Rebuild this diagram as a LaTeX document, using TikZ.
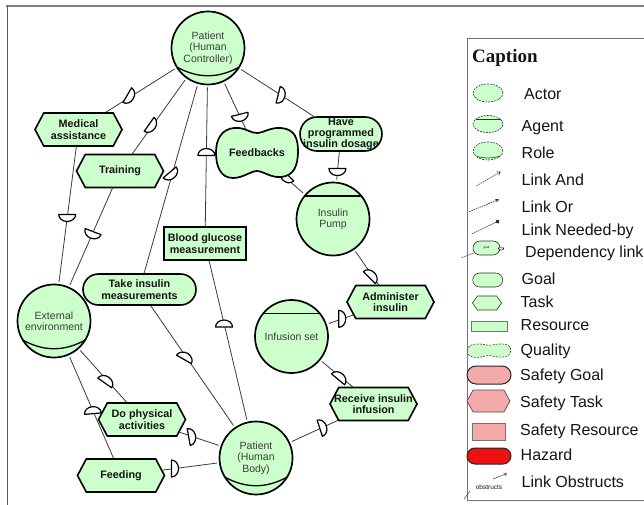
\documentclass[tikz,border=0pt]{standalone}
\usepackage{fontspec}
\setmainfont{Liberation Sans}
\newfontfamily\capfont{Liberation Serif}
\usetikzlibrary{shapes.misc,shapes.symbols,shapes.geometric,calc,arrows.meta}
\pgfdeclarelayer{background}
\pgfsetlayers{background,main}

\definecolor{leaf}{HTML}{CCFFCC}
\definecolor{blush}{HTML}{F5AAAA}
\definecolor{alarm}{HTML}{EE1111}
\definecolor{ink}{HTML}{141414}
\definecolor{namegray}{HTML}{3C3C3C}
\definecolor{wire}{HTML}{3A3A3A}
\definecolor{rule}{HTML}{808080}

\begin{document}
\begin{tikzpicture}[x=1pt,y=-1pt,
  every node/.style={inner sep=0pt},
  namefont/.style={font=\fontsize{10.5}{11.3}\selectfont, text=namegray},
  boldfont/.style={font=\bfseries\fontsize{10.8}{11.3}\selectfont, text=ink},
  actorc/.style={circle, draw=black, line width=1.7pt, fill=leaf, minimum size=73pt,
    outer sep=3pt, align=center, namefont},
  rolec/.style={actorc, path picture={
    \draw[line width=1.3pt]
      ($(path picture bounding box.center)+(-38,15)$)
      .. controls ($(path picture bounding box.center)+(-12,32)$)
      and ($(path picture bounding box.center)+(12,32)$)
      .. ($(path picture bounding box.center)+(38,15)$);}},
  agentc/.style={actorc, path picture={
    \draw[line width=1.3pt]
      ($(path picture bounding box.center)+(-40,-23)$) --
      ($(path picture bounding box.center)+(40,-23)$);}},
  task/.style={signal, signal to=east and west, signal pointer angle=124,
    draw=black, line width=1.6pt, fill=leaf, minimum width=87pt,
    minimum height=33pt, align=center, boldfont},
  goal/.style={rounded rectangle, draw=black, line width=1.6pt, fill=leaf,
    minimum width=82pt, minimum height=34pt, align=center, boldfont},
  resource/.style={rectangle, draw=black, line width=1.8pt, fill=leaf,
    minimum width=82pt, minimum height=33pt, align=center, boldfont},
  quality/.style={ellipse, minimum width=82pt, minimum height=50pt, boldfont},
  inlabel/.style={align=center, boldfont},
  dlink/.style={draw=wire, line width=0.8pt},
  dep stroke/.style={line width=1.2pt},
  dep/.pic={
    \draw[fill=white, line join=round, dep stroke]
      (-3.5pt,-8.5pt) -- (-3.5pt,8.5pt)
      arc[start angle=90, end angle=-90, x radius=7pt, y radius=8.5pt] -- cycle;},
  peanut/.pic={
    \path[pic actions] (-41,0) .. controls (-41,-20) and (-30,-26) .. (-18,-25)
      .. controls (-10,-24) and (-6,-20) .. (0,-20)
      .. controls (6,-20) and (14,-26) .. (24,-25)
      .. controls (38,-24) and (41,-14) .. (41,-2)
      .. controls (41,14) and (36,23) .. (24,24)
      .. controls (14,25) and (6,18) .. (0,18)
      .. controls (-6,18) and (-14,25) .. (-24,25)
      .. controls (-36,25) and (-41,14) .. (-41,0) -- cycle;},
  legell/.style={ellipse, draw=black!80, dash pattern=on 2pt off 1pt,
    line width=0.6pt, fill=leaf, minimum width=30pt, minimum height=18pt},
  legsolid/.style={draw=black!80, line width=0.6pt, fill=leaf},
  legtxt/.style={anchor=west, font=\fontsize{16}{18}\selectfont, text=ink,
    text height=11.5pt, text depth=0pt},
  leglink/.style={draw=black!85, dash pattern=on 1.5pt off 0.8pt, line width=0.55pt}
]
\useasboundingbox (0,0) rectangle (644,505);

% outer frame
\draw[rule, line width=1.5pt] (6,6) -- (644,6);
\draw[black!65, line width=0.8pt] (7.3,6) -- (7.3,505);

% ---------- actors ----------
\node[rolec]  (phc) at (208,48)    {Patient\\(Human\\Controller)};
\node[agentc] (ip)  at (333,219)   {Insulin\\Pump};
\node[rolec]  (ee)  at (54,321)    {External\\environment};
\node[agentc] (is)  at (291.5,336.5) {Infusion set};
\node[rolec]  (phb) at (256,458)   {Patient\\(Human\\Body)};

% ---------- dependums ----------
\node[task] (med)  at (78.5,129.5) {Medical\\assistance};
\node[task] (trn)  at (120,171)    {Training};
\node[resource] (bgm) at (205,243.5) {Blood glucose\\measurement};
\path (257,153) pic[draw=black, fill=leaf, line width=1.7pt]{peanut};
\node[quality] (fdb) at (257,153) {Feedbacks};
\node[goal, label={[inlabel]center:{Have\\programmed\\insulin dosage}}] (hpd) at (341,134) {};
\node[goal, minimum width=113pt, minimum height=31pt] (tim) at (139.5,289.5) {Take insulin\\measurements};
\node[task] (ai)   at (390.5,302)  {Administer\\insulin};
\node[task, label={[inlabel]center:{Receive insulin\\infusion}}] (rii) at (373.5,404) {};
\node[task] (dpa)  at (142,419.5)  {Do physical\\activities};
\node[task] (feed) at (121,475.5)  {Feeding};

% ---------- dependency links ----------
\begin{pgfonlayer}{background}
\foreach \a/\b in {phc/med, phc/trn, phc/tim, phc/bgm, phc/fdb, phc/hpd,
  hpd/ip, fdb/ip, med/ee, trn/ee, ip/ai, ai/is, is/rii, rii/phb, bgm/phb,
  tim/phb, ee/dpa, ee/feed, dpa/phb, feed/phb}
  \draw[dlink] (\a) -- (\b);
\foreach \a/\b/\t/\r in {phc/med/0.60/-30, phc/trn/0.637/-35, phc/tim/0.526/-50,
  phc/bgm/0.532/90, phc/fdb/0.664/-76, phc/hpd/0.553/-14, hpd/ip/0.448/-90,
  fdb/ip/0.371/-135, med/ee/0.462/-90, trn/ee/0.426/-111, ip/ai/0.676/45,
  ai/is/0.487/0, is/rii/0.595/50, rii/phb/0.429/18, bgm/phb/0.373/90,
  tim/phb/0.397/60, ee/dpa/0.60/55, ee/feed/0.577/95, dpa/phb/0.44/10,
  feed/phb/0.40/0}
  \path ($(\a)!\t!(\b)$) pic[rotate=\r]{dep};
\end{pgfonlayer}

% ---------- caption box ----------
\draw[black!55, line width=0.8pt] (650,38.3) -- (467.3,38.3) -- (467.3,500) -- (650,500);
\node[font={\capfont\bfseries\fontsize{19}{22}\selectfont}, text=ink, anchor=base west] (cap) at (472,63) {Caption};

\node[legell] (lgactor) at (488,93) {};
\node[legell, minimum height=17pt] (lgagent) at (488,124) {};
\draw[black!80, line width=0.7pt] ($(lgagent)+(-12.5,-4.7)$) -- ($(lgagent)+(12.5,-4.7)$);
\node[legell] (lgrole) at (488,151) {};
\draw[black!80, line width=0.6pt] ($(lgrole)+(-11,5.5)$) .. controls ($(lgrole)+(-4,7.5)$) and ($(lgrole)+(4,7.5)$) .. ($(lgrole)+(11,5.5)$);

\coordinate (andA) at (476.7,185.7); \coordinate (andB) at (500.7,171.7);
\draw[leglink, -{Straight Barb[length=3pt, width=4pt]}] (andA) -- (andB);
\coordinate (orA) at (469.3,211.7); \coordinate (orB) at (499.3,199.3);
\draw[leglink, -{Stealth[length=4pt, width=3.5pt]}] (orA) -- (orB);
\coordinate (ndA) at (471.7,234); \coordinate (ndB) at (499.3,220.7);
\draw[leglink, -{Circle[length=4pt]}] (ndA) -- (ndB);

\node[rounded rectangle, legsolid, minimum width=27pt, minimum height=14pt,
  font=\fontsize{3}{3}\selectfont] (lgdep) at (486.5,248) {goal};
\coordinate (depA) at (461,258);
\draw[black!65, line width=0.5pt] (depA) -- (lgdep);
\path (501,249) pic[scale=0.35, rotate=-90, dep stroke/.style={line width=0.5pt}]{dep};

\node[rounded rectangle, legsolid, minimum width=30pt, minimum height=14pt] (lggoal) at (487.7,280) {};
\node[signal, signal to=east and west, signal pointer angle=110, legsolid,
  minimum width=29pt, minimum height=14pt] (lgtask) at (487,303) {};
\node[rectangle, draw=black!55, line width=0.8pt, fill=leaf, minimum width=35.5pt,
  minimum height=10pt] (lgres) at (489.5,326.7) {};
\path (489,350.7) pic[draw=black!75, fill=leaf, line width=0.6pt,
  dash pattern=on 2pt off 1.2pt, xscale=0.53, yscale=0.27]{peanut};
\node[rounded rectangle, draw=black!85, line width=1pt, fill=blush,
  minimum width=44pt, minimum height=18pt] (lgsgoal) at (489,375) {};
\node[signal, signal to=east and west, signal pointer angle=122, draw=black!70,
  line width=0.7pt, fill=blush, minimum width=43pt, minimum height=22pt] (lgstask) at (488.5,401) {};
\node[rectangle, draw=black!55, line width=0.9pt, fill=blush, minimum width=33pt,
  minimum height=17pt] (lgsres) at (489.4,431.5) {};
\node[rounded rectangle, draw=black!85, line width=1pt, fill=alarm,
  minimum width=44pt, minimum height=16pt] (lghaz) at (489,456) {};
\node[font=\fontsize{6.5}{7}\selectfont, text=ink] (lgobs) at (489,487) {obstructs};
\coordinate (obA) at (493,479); \coordinate (obB) at (507,473.5);
\draw[black!75, line width=0.5pt, -{Straight Barb[length=2.5pt, width=3.5pt]}] (obA) -- (obB);
\coordinate (obC) at (464,499); \coordinate (obD) at (470,491);
\draw[black!75, line width=0.5pt] (obC) -- (obD);

\node[legtxt] (tactor) at (524,93.3)  {Actor};
\node[legtxt] (tagent) at (521.5,126) {Agent};
\node[legtxt] (trole)  at (521.5,152.7) {Role};
\node[legtxt] (tand)   at (521.5,179.3) {Link And};
\node[legtxt] (tor)    at (521.5,207) {Link Or};
\node[legtxt] (tneed)  at (521.5,229.5) {Link Needed-by};
\node[legtxt] (tdep)   at (525,252)   {Dependency link};
\node[legtxt] (tgoal)  at (521.5,278.3) {Goal};
\node[legtxt] (ttask)  at (520.5,301.7) {Task};
\node[legtxt] (tres)   at (520.5,325) {Resource};
\node[legtxt] (tqual)  at (520.5,350) {Quality};
\node[legtxt] (tsgoal) at (520,375)   {Safety Goal};
\node[legtxt] (tstask) at (520,401.7) {Safety Task};
\node[legtxt] (tsres)  at (520,430)   {Safety Resource};
\node[legtxt] (thaz)   at (520.5,455) {Hazard};
\node[legtxt] (tobs)   at (521.5,481.7) {Link Obstructs};
\end{tikzpicture}
\end{document}
